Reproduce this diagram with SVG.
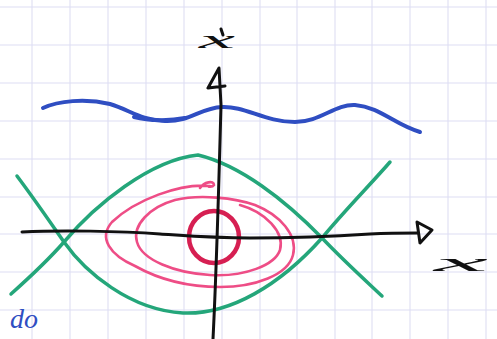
<svg xmlns="http://www.w3.org/2000/svg" width="497" height="339" viewBox="0 0 497 339">
<defs>
<style>
.grid line{stroke:#dedef3;stroke-width:1.1}
.ink{fill:none;stroke-linecap:round;stroke-linejoin:round}
.axis{stroke:#111;stroke-width:3}
.green{stroke:#24a67a;stroke-width:3.5}
.pink{stroke:#ee4d86;stroke-width:2.6}
.red{stroke:#d61f52;stroke-width:4.5}
.blue{stroke:#2f4ec2;stroke-width:4}
.lbl{font-family:"Liberation Serif",serif;font-style:italic;fill:#111}
</style>
</defs>
<rect width="497" height="339" fill="#fff"/>
<g id="grid" class="grid">
<line x1="32" y1="0" x2="32" y2="339"/><line x1="70" y1="0" x2="70" y2="339"/><line x1="108" y1="0" x2="108" y2="339"/><line x1="146" y1="0" x2="146" y2="339"/><line x1="184" y1="0" x2="184" y2="339"/><line x1="222" y1="0" x2="222" y2="339"/><line x1="260" y1="0" x2="260" y2="339"/><line x1="297" y1="0" x2="297" y2="339"/><line x1="335" y1="0" x2="335" y2="339"/><line x1="372" y1="0" x2="372" y2="339"/><line x1="410" y1="0" x2="410" y2="339"/><line x1="448" y1="0" x2="448" y2="339"/><line x1="486" y1="0" x2="486" y2="339"/>
<line x1="0" y1="7" x2="497" y2="7"/><line x1="0" y1="45" x2="497" y2="45"/><line x1="0" y1="83" x2="497" y2="83"/><line x1="0" y1="121" x2="497" y2="121"/><line x1="0" y1="159" x2="497" y2="159"/><line x1="0" y1="197" x2="497" y2="197"/><line x1="0" y1="234" x2="497" y2="234"/><line x1="0" y1="272" x2="497" y2="272"/><line x1="0" y1="310" x2="497" y2="310"/>
</g>
<g id="blue-trajectory" class="ink blue">
<path d="M43,108 C58,101 85,98 110,104 C130,110 140,120 165,121 C190,122 200,108 222,107 C245,106 265,122 295,122 C320,122 335,104 355,105 C380,107 395,125 420,132"/>
<path d="M134,117 C150,121 170,121 185,118"/>
</g>
<g id="separatrix" class="ink green">
<path d="M17,176 C35,200 50,222 64,242 C85,272 130,310 183,313 C230,315 280,285 322,238 C345,210 370,185 390,162"/>
<path d="M11,294 C30,277 50,258 64,242 C95,205 150,160 198,155 C240,165 285,200 322,238 C345,262 365,280 382,296"/>
</g>
<g id="spiral" class="ink pink">
<path d="M200,188 C204,182 214,180 214,185 C212,188 205,186 210,186 C180,183 135,200 112,222 C98,238 110,255 135,266 C160,280 190,287 220,287 C255,287 288,275 293,255 C298,235 280,215 255,205 C235,198 200,194 175,200 C150,207 132,225 137,242 C142,260 175,273 210,275 C245,277 275,265 280,250 C285,232 265,212 240,205"/>
</g>
<g id="center" class="ink red">
<ellipse cx="214" cy="237" rx="25" ry="26"/>
</g>
<g id="axes" class="ink axis">
<path d="M22,232 C60,230 120,231 160,234 C190,236 213,238 250,238 C300,238 340,236 370,234 C390,233 405,233 418,233"/>
<path d="M417,222 L432,230 L420,243 Z"/>
<path d="M213,339 C216,280 219,180 221,105 L219,68 L208,88 L225,86"/>
</g>
<g id="labels">
<text class="lbl" x="199" y="48" font-size="26" textLength="36" lengthAdjust="spacingAndGlyphs">x</text>
<path class="ink axis" d="M221,29 L223,35" stroke-width="2"/>
<text class="lbl" x="434" y="271" font-size="26" textLength="54" lengthAdjust="spacingAndGlyphs">x</text>
<text x="10" y="328" font-family="Liberation Serif,serif" font-style="italic" font-size="28" fill="#2f4ec2">do</text>
</g>
</svg>
